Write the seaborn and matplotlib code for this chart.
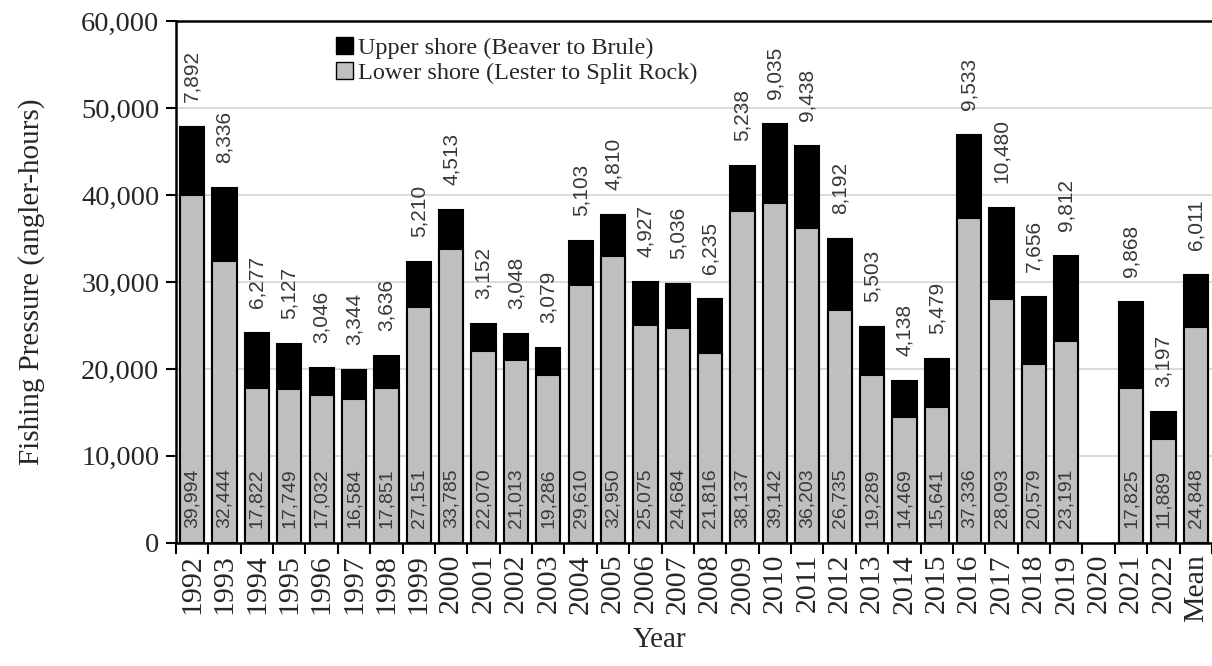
import numpy as np
import pandas as pd
import matplotlib
matplotlib.use("Agg")
import matplotlib.pyplot as plt
import seaborn as sns
from matplotlib.patches import Patch

# Data
years = [str(y) for y in range(1992, 2023)] + ["Mean"]
upper = [7892, 8336, 6277, 5127, 3046, 3344, 3636, 5210, 4513, 3152, 3048, 3079,
         5103, 4810, 4927, 5036, 6235, 5238, 9035, 9438, 8192, 5503, 4138, 5479,
         9533, 10480, 7656, 9812, np.nan, 9868, 3197, 6011]
lower = [39994, 32444, 17822, 17749, 17032, 16584, 17851, 27151, 33785, 22070, 21013, 19286,
         29610, 32950, 25075, 24684, 21816, 38137, 39142, 36203, 26735, 19289, 14469, 15641,
         37336, 28093, 20579, 23191, np.nan, 17825, 11889, 24848]

df = pd.DataFrame({"year": years, "upper": upper, "lower": lower})
df["total"] = df["upper"] + df["lower"]

sns.set_style("white")
plt.rcParams["font.family"] = ["Liberation Serif", "DejaVu Serif"]

fig = plt.figure(figsize=(12.12, 6.66), dpi=100)
ax = fig.add_axes([0.1452, 0.185, 0.8548, 0.783])

ax.yaxis.grid(True, color="#d4d4d4", linewidth=1.2)
ax.set_axisbelow(True)

sns.barplot(data=df, x="year", y="total", order=years, color="black", saturation=1,
            width=0.75, edgecolor="black", linewidth=1.5, ax=ax)
sns.barplot(data=df, x="year", y="lower", order=years, color="#bfbfbf", saturation=1,
            width=0.75, edgecolor="black", linewidth=1.5, ax=ax)

label_font = ["Liberation Sans Narrow", "Liberation Sans", "DejaVu Sans"]
for i, row in df.iterrows():
    if np.isnan(row["total"]):
        continue
    ax.annotate(f"{int(row['upper']):,}", (i, row["total"]), xytext=(0, 18),
                textcoords="offset points", rotation=90, ha="center", va="bottom",
                fontsize=15, color="#383838", family=label_font)
    ax.annotate(f"{int(row['lower']):,}", (i, 0), xytext=(0, 11),
                textcoords="offset points", rotation=90, ha="center", va="bottom",
                fontsize=14, color="#383838", family=label_font)

ax.set_xlim(-0.5, len(years) - 0.5)
ax.set_ylim(0, 60000)
ax.set_yticks(range(0, 60001, 10000))
ax.set_yticklabels([f"{v:,}" for v in range(0, 60001, 10000)], fontsize=20.5)

# ticks sit between the categories, labels at the centres
ax.set_xticks(np.arange(len(years)))
ax.set_xticklabels(years, rotation=90, fontsize=21.5)
ax.set_xticks(np.arange(-0.5, len(years)), minor=True)
ax.tick_params(axis="x", which="major", bottom=True, length=0, pad=8)
ax.tick_params(axis="x", which="minor", bottom=True, direction="out", length=8, width=1.5, color="black")
ax.tick_params(axis="y", left=True, direction="out", length=7, width=1.5, color="black", pad=5)

for side in ["left", "bottom", "top"]:
    ax.spines[side].set_visible(True)
    ax.spines[side].set_color("black")
    ax.spines[side].set_linewidth(1.8)
ax.spines["right"].set_visible(False)

ax.set_xlabel("Year", fontsize=21)
ax.xaxis.set_label_coords(0.467, -0.162)
ax.set_ylabel("Fishing Pressure (angler-hours)", fontsize=21)
ax.yaxis.set_label_coords(-0.126, 0.5)

handles = [Patch(facecolor="black", edgecolor="black", label="Upper shore (Beaver to Brule)"),
           Patch(facecolor="#bfbfbf", edgecolor="black", label="Lower shore (Lester to Split Rock)")]
ax.legend(handles=handles, loc="upper left", bbox_to_anchor=(0.139, 1.0), frameon=False,
          fontsize=17.5, handlelength=0.7, handleheight=0.7, handletextpad=0.2,
          labelspacing=0.1, borderaxespad=0.25)

fig.savefig("out.png", dpi=100)
